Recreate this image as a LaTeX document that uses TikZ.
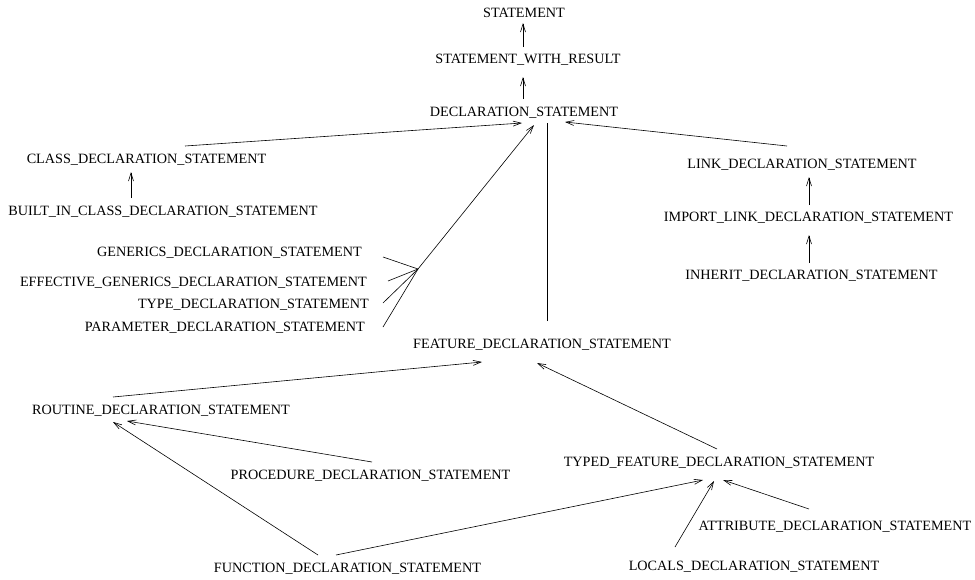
\documentclass[tikz,border=0pt]{standalone}
\usepackage{fontspec}
\setmainfont{Liberation Serif}
\usetikzlibrary{arrows.meta}
\begin{document}
\begin{tikzpicture}[x=1pt,y=-1pt,
  cls/.style={inner sep=0pt,font=\fontsize{14.2}{16}\selectfont},
  link/.style={line width=0.6pt},
  arr/.style={link,-{Straight Barb[length=8pt,width=5pt]}}]
\useasboundingbox (0,0) rectangle (975,579);
% class names
\node[cls] (stmt) at (524,13) {STATEMENT};
\node[cls] (swr) at (528,60) {STATEMENT\_WITH\_RESULT};
\node[cls] (decl) at (524,113) {DECLARATION\_STATEMENT};
\node[cls] (clsd) at (146.5,160) {CLASS\_DECLARATION\_STATEMENT};
\node[cls] (bic) at (163,212) {BUILT\_IN\_CLASS\_DECLARATION\_STATEMENT};
\node[cls,anchor=east] (gen) at (362,253) {GENERICS\_DECLARATION\_STATEMENT};
\node[cls,anchor=east] (eff) at (367,283) {EFFECTIVE\_GENERICS\_DECLARATION\_STATEMENT};
\node[cls,anchor=east] (typ) at (369,305) {TYPE\_DECLARATION\_STATEMENT};
\node[cls,anchor=east] (par) at (365,328) {PARAMETER\_DECLARATION\_STATEMENT};
\node[cls] (feat) at (542,345) {FEATURE\_DECLARATION\_STATEMENT};
\node[cls] (rout) at (161,411) {ROUTINE\_DECLARATION\_STATEMENT};
\node[cls] (proc) at (370.5,476) {PROCEDURE\_DECLARATION\_STATEMENT};
\node[cls] (func) at (347.5,569) {FUNCTION\_DECLARATION\_STATEMENT};
\node[cls] (typed) at (719,463) {TYPED\_FEATURE\_DECLARATION\_STATEMENT};
\node[cls] (attr) at (835,527) {ATTRIBUTE\_DECLARATION\_STATEMENT};
\node[cls] (loc) at (754,567) {LOCALS\_DECLARATION\_STATEMENT};
\node[cls] (lnk) at (802,165) {LINK\_DECLARATION\_STATEMENT};
\node[cls] (imp) at (808.5,218) {IMPORT\_LINK\_DECLARATION\_STATEMENT};
\node[cls] (inh) at (811.5,276) {INHERIT\_DECLARATION\_STATEMENT};
% junction of the generics/type/parameter branch
\coordinate (gm) at (418,269);
% inheritance links
\draw[arr] ([shift={(-5,-13)}]swr.center) -- ([shift={(-1,10)}]stmt.center);
\draw[arr] ([shift={(-1,-14)}]decl.center) -- ([shift={(-5,17)}]swr.center);
\draw[arr] ([shift={(38.5,-14)}]clsd.center) -- ([shift={(-2,10)}]decl.center);
\draw[arr] ([shift={(-32,-14)}]bic.center) -- ([shift={(-15.5,12)}]clsd.center);
\draw[link] ([shift={(21,4)}]gen.east) -- (gm);
\draw[link] ([shift={(21,-2)}]eff.east) -- (gm);
\draw[link] ([shift={(14,-2)}]typ.east) -- (gm);
\draw[link] ([shift={(18,-1)}]par.east) -- (gm);
\draw[arr] (gm) -- ([shift={(10,12)}]decl.center);
\draw[link] ([shift={(5,-24)}]feat.center) -- ([shift={(23,10)}]decl.center);
\draw[arr] ([shift={(-15,-19)}]lnk.center) -- ([shift={(41,9)}]decl.center);
\draw[arr] ([shift={(0.5,-13)}]imp.center) -- ([shift={(7,12)}]lnk.center);
\draw[arr] ([shift={(-2.5,-13)}]inh.center) -- ([shift={(0.5,17)}]imp.center);
\draw[arr] ([shift={(-48,-14)}]rout.center) -- ([shift={(-60,17)}]feat.center);
\draw[arr] ([shift={(-2,-14)}]typed.center) -- ([shift={(-5,18)}]feat.center);
\draw[arr] ([shift={(1.5,-14)}]proc.center) -- ([shift={(-34,10)}]rout.center);
\draw[arr] ([shift={(-29.5,-14)}]func.center) -- ([shift={(-48,11)}]rout.center);
\draw[arr] ([shift={(-11.5,-14)}]func.center) -- ([shift={(-16,17)}]typed.center);
\draw[arr] ([shift={(-26,-18)}]attr.center) -- ([shift={(4,17)}]typed.center);
\draw[arr] ([shift={(-79,-20)}]loc.center) -- ([shift={(-5,18)}]typed.center);
\end{tikzpicture}
\end{document}
